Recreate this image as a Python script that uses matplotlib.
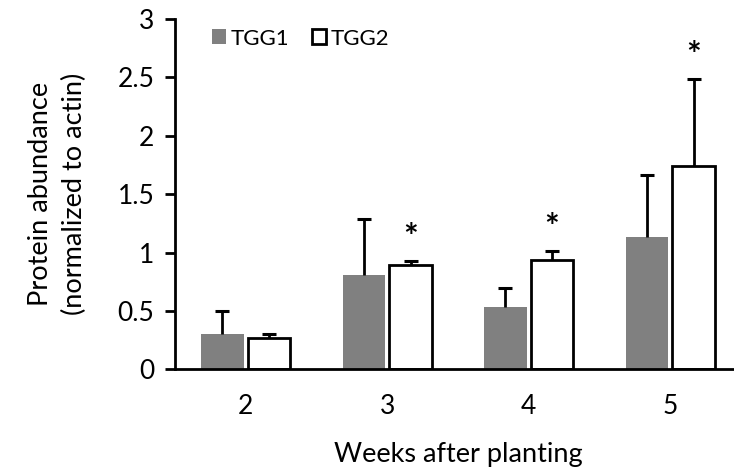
import matplotlib.pyplot as plt
import numpy as np

plt.rcParams["font.family"] = ["Lato", "DejaVu Sans"]

# Weeks after planting and protein abundance (normalized to actin)
WEEKS = ["2", "3", "4", "5"]
TGG1 = [0.30, 0.81, 0.53, 1.13]
TGG1_ERR = [0.20, 0.48, 0.17, 0.53]
TGG2 = [0.27, 0.89, 0.94, 1.74]
TGG2_ERR = [0.03, 0.035, 0.07, 0.75]
SIGNIF = [False, True, True, True]


def main() -> None:
    fig = plt.figure(figsize=(7.34, 4.73), dpi=100)
    ax = fig.add_axes([0.2384, 0.2192, 0.771, 0.7406])

    x = np.arange(len(WEEKS))
    w = 0.30
    off = 0.165

    ax.bar(x - off, TGG1, w, color="#808080", label="TGG1", zorder=2)
    ax.bar(x + off, TGG2, w, color="white", edgecolor="black", linewidth=2,
           label="TGG2", zorder=2)

    # Upper-only error bars: stem plus a cap at the top.
    for xs, vals, errs in [(x - off, TGG1, TGG1_ERR), (x + off, TGG2, TGG2_ERR)]:
        vals = np.array(vals)
        errs = np.array(errs)
        ax.vlines(xs, vals, vals + errs, color="black", lw=2, zorder=3)
        ax.plot(xs, vals + errs, ls="none", marker="_", ms=10, mew=2.2,
                color="black", zorder=3)

    # Significance marks above TGG2
    for k, sig in enumerate(SIGNIF):
        if sig:
            top = TGG2[k] + TGG2_ERR[k]
            ax.annotate("*", xy=(x[k] + off, top), xytext=(0, 5),
                        textcoords="offset points", ha="center", va="bottom",
                        fontsize=25, fontweight="bold")

    ax.set_xlim(-0.5, 3.5)
    ax.set_ylim(0, 3)
    ax.set_yticks([0, 0.5, 1, 1.5, 2, 2.5, 3])
    ax.set_yticklabels(["0", "0.5", "1", "1.5", "2", "2.5", "3"])
    ax.set_xticks(x)
    ax.set_xticklabels(WEEKS)

    for s in ["top", "right"]:
        ax.spines[s].set_visible(False)
    ax.spines["left"].set_linewidth(2)
    ax.spines["bottom"].set_linewidth(2)
    ax.tick_params(axis="y", direction="out", length=7, width=2,
                   labelsize=19, pad=8)
    ax.tick_params(axis="x", length=0, labelsize=19, pad=18)

    ax.set_xlabel("Weeks after planting", fontsize=19.5, labelpad=16)
    ax.set_ylabel("Protein abundance\n(normalized to actin)", fontsize=19.5,
                  labelpad=22, linespacing=1.45)

    ax.legend(loc="upper left", bbox_to_anchor=(0.03, 1.03), ncol=2,
              frameon=False, fontsize=16, handlelength=0.65,
              handleheight=0.65, handletextpad=0.2, columnspacing=1.0)

    fig.savefig("out.png", dpi=100)


if __name__ == "__main__":
    main()
